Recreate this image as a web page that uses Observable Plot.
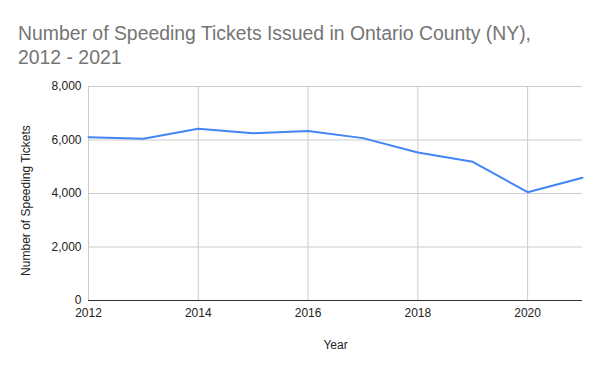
<!DOCTYPE html>
<html>
<head>
<meta charset="utf-8">
<script src="https://cdn.jsdelivr.net/npm/d3@7"></script>
<script src="https://cdn.jsdelivr.net/npm/@observablehq/plot@0.6"></script>
<style>
  html, body { margin: 0; padding: 0; background: #fff; }
  #wrap { width: 600px; height: 371px; position: relative; overflow: hidden; font-family: Arial, "Liberation Sans", sans-serif; }
  #title { box-sizing: border-box; height: 76px; padding: 21px 0 0 18px; font-size: 19.4px; line-height: 24px; color: #757575; }
  svg { display: block; }
</style>
</head>
<body>
<div id="wrap">
  <div id="title">Number of Speeding Tickets Issued in Ontario County (NY),<br>2012 - 2021</div>
  <div id="chart"></div>
</div>
<script>
const years = [2012, 2013, 2014, 2015, 2016, 2017, 2018, 2019, 2020, 2021];
const tickets = [6105, 6045, 6420, 6255, 6340, 6070, 5535, 5185, 4050, 4590];
const xTicks = [2012, 2014, 2016, 2018, 2020];
const yTicks = [0, 2000, 4000, 6000, 8000];
const xLabel = "Year";
const yLabel = "Number of Speeding Tickets";

const data = years.map((y, i) => ({year: y, value: tickets[i]}));

const chart = Plot.plot({
  width: 600,
  height: 295,
  marginTop: 10,
  marginBottom: 71,
  marginLeft: 88,
  marginRight: 18,
  style: {fontFamily: 'Arial, "Liberation Sans", sans-serif', fontSize: "12px", color: "#222", background: "#fff"},
  x: {domain: [2012, 2021]},
  y: {domain: [0, 8000]},
  marks: [
    Plot.gridX(xTicks, {stroke: "#cccccc", strokeOpacity: 1}),
    Plot.gridY(yTicks, {stroke: "#cccccc", strokeOpacity: 1}),
    Plot.axisX(xTicks, {tickSize: 0, tickPadding: 8, tickFormat: d => String(d), label: xLabel, labelAnchor: "center", labelArrow: "none", labelOffset: 48, fill: "#222"}),
    Plot.axisY(yTicks, {tickSize: 0, tickPadding: 7, tickFormat: d3.format(","), label: null, fill: "#222"}),
    Plot.text([yLabel], {frameAnchor: "left", text: d => d, rotate: -90, dx: -62, dy: 7, lineAnchor: "middle", textAnchor: "middle", fill: "#222", fontSize: 12}),
    Plot.ruleY([0], {stroke: "#333333", strokeWidth: 1}),
    Plot.line(data, {x: "year", y: "value", stroke: "#4285F4", strokeWidth: 2})
  ]
});
document.getElementById("chart").appendChild(chart);
</script>
</body>
</html>
